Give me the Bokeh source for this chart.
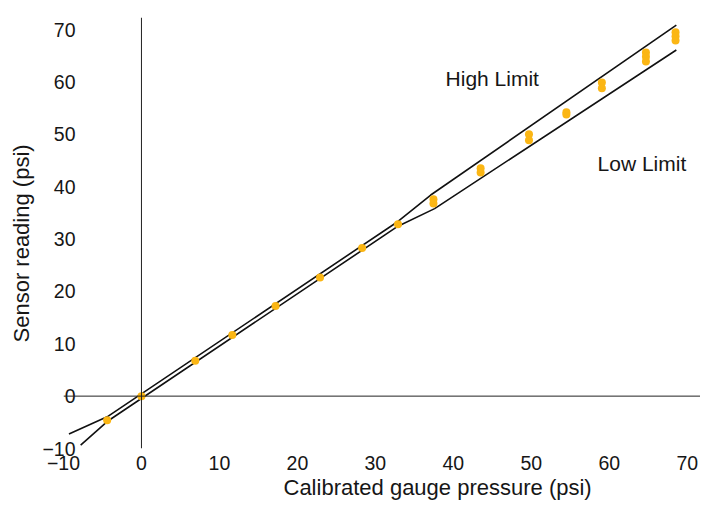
from bokeh.plotting import figure
from bokeh.models import Range1d, FixedTicker, Span, ColumnDataSource, Title
from bokeh.core.properties import value
from bokeh.embed import file_html
from bokeh.resources import INLINE

# ---- data ----
# calibration readings (gauge pressure vs sensor reading), repeated x = repeated readings
gauge_psi = [-4.4, 0.0, 6.9, 11.65, 17.2, 22.9, 28.3, 32.9,
             37.45, 37.45, 43.5, 43.5, 49.7, 49.7, 54.5, 54.5,
             59.05, 59.05, 64.7, 64.7, 64.7, 68.5, 68.5, 68.5]
sensor_psi = [-4.6, 0.0, 6.75, 11.65, 17.2, 22.65, 28.3, 32.8,
              37.6, 36.8, 43.5, 42.7, 50.0, 48.85, 54.2, 53.8,
              59.9, 58.8, 65.6, 64.8, 63.9, 69.5, 68.7, 67.9]

high_x = [-9.3, -4.4, 32.9, 37.1, 68.6]
high_y = [-7.25, -3.95, 33.35, 38.4, 70.85]
low_x = [-7.8, -4.4, 32.9, 37.6, 68.6]
low_y = [-9.35, -4.85, 32.45, 35.8, 66.1]

label_text = ["High Limit", "Low Limit"]
label_x = [39.0, 58.5]
label_y = [60.7, 44.5]

x_ticks = [-10, 0, 10, 20, 30, 40, 50, 60, 70]
y_ticks = [-10, 0, 10, 20, 30, 40, 50, 60, 70]

x_title = "Calibrated gauge pressure (psi)"
y_title = "Sensor reading (psi)"

FONT = "Liberation Sans"
INK = "#161616"

p = figure(width=700, height=502,
           x_range=Range1d(-10, 71.7), y_range=Range1d(-10, 72.3),
           output_backend="svg", toolbar_location=None,
           min_border_left=59, min_border_top=17, min_border_right=0,
           min_border_bottom=54)
p.outline_line_color = None
p.grid.visible = False
p.background_fill_color = "white"
p.border_fill_color = "white"

for ax in (p.xaxis[0], p.yaxis[0]):
    ax.axis_line_color = None
    ax.major_tick_line_color = None
    ax.minor_tick_line_color = None
    ax.major_tick_out = 0
    ax.major_tick_in = 0
    ax.minor_tick_out = 0
    ax.minor_tick_in = 0
    ax.major_label_text_font = FONT
    ax.major_label_text_font_size = "19.5px"
    ax.major_label_text_color = INK

p.xaxis.ticker = FixedTicker(ticks=x_ticks)
p.yaxis.ticker = FixedTicker(ticks=y_ticks)
p.xaxis.major_label_standoff = 7
p.yaxis.major_label_standoff = -12
p.yaxis.major_label_text_baseline = "alphabetic"

# axis titles, placed off-centre as in the original
p.add_layout(Title(text=x_title, align="left", offset=220, standoff=0,
                   text_font=FONT, text_font_size="22px",
                   text_font_style="normal", text_color=INK), "below")
p.add_layout(Title(text=y_title, align="left", offset=106, standoff=12,
                   text_font=FONT, text_font_size="22px",
                   text_font_style="normal", text_color=INK), "left")

# axes through the origin
p.add_layout(Span(location=0, dimension="width", line_color="#222222", line_width=1))
p.add_layout(Span(location=0, dimension="height", line_color="#222222", line_width=1))

p.line(high_x, high_y, line_color="#111111", line_width=1.6)
p.line(low_x, low_y, line_color="#111111", line_width=1.6)

p.scatter(gauge_psi, sensor_psi, size=8, fill_color="#FBB614", line_color=None)

src = ColumnDataSource(dict(x=label_x, y=label_y, t=label_text))
p.text(x="x", y="y", text="t", source=src, text_font=value(FONT),
       text_font_size="21px", text_color=INK, text_align="left",
       text_baseline="middle")

open("out.html", "w").write(file_html(p, INLINE))
